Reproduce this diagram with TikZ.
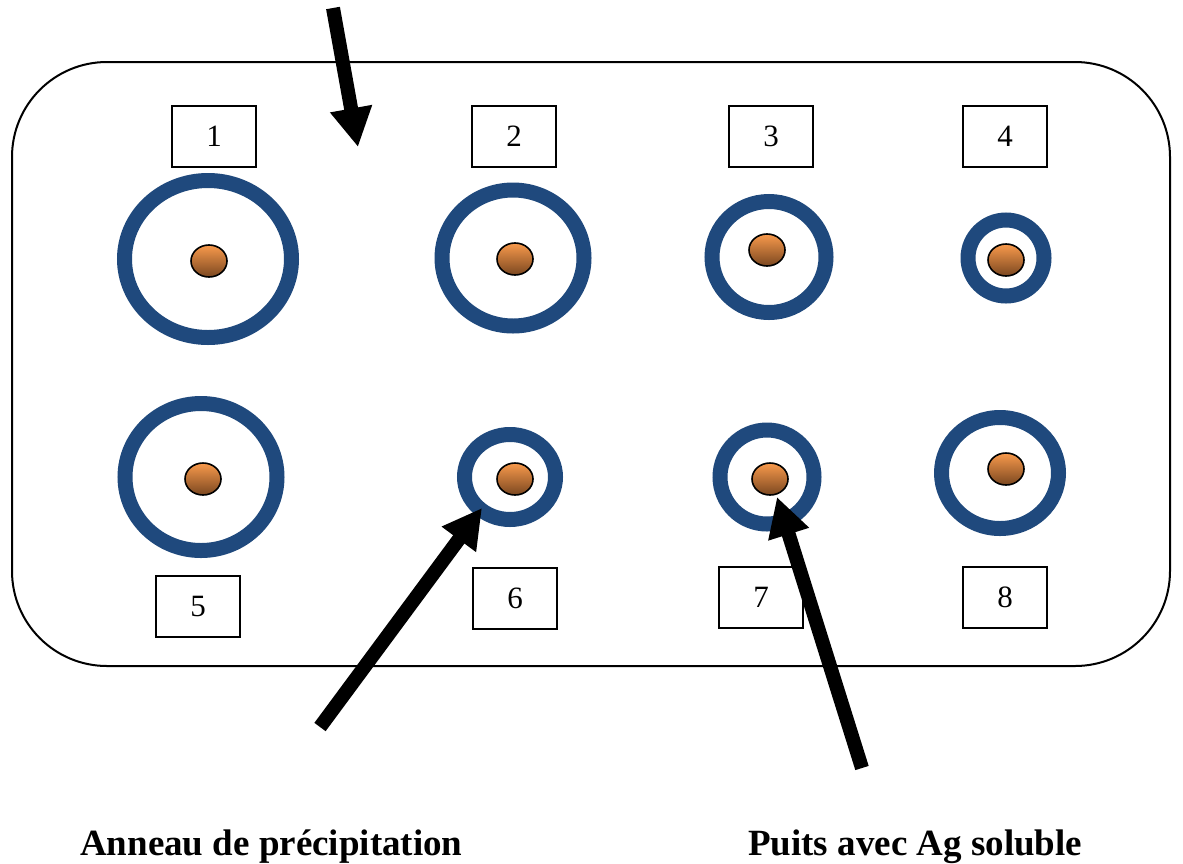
\documentclass[tikz,border=0pt]{standalone}
\usepackage{fontspec}
\setmainfont{Liberation Serif}
\usetikzlibrary{shapes.geometric,arrows.meta}
\definecolor{ringblue}{HTML}{1F497D}
\definecolor{dottop}{HTML}{F99A4C}
\definecolor{dotbot}{HTML}{7A4720}
\tikzset{
  ring/.style={ellipse, draw=ringblue, line width=15pt, inner sep=0pt},
  dot/.style={ellipse, draw=black, line width=1.6pt, inner sep=0pt,
    minimum width=36pt, minimum height=32pt, top color=dottop, bottom color=dotbot},
  numbox/.style={draw=black, line width=2pt, inner sep=0pt, minimum width=84pt,
    minimum height=61pt, font=\fontsize{31}{31}\selectfont},
  bigarrow/.style={line width=14pt, -{Triangle[length=39pt,width=40pt]}},
  caption/.style={inner sep=0pt, anchor=base west, font=\fontsize{37}{37}\selectfont\bfseries}
}
\begin{document}
\begin{tikzpicture}[x=1pt,y=-1pt]
\useasboundingbox (0,0) rectangle (1183,863);
\fill[white] (0,0) rectangle (1183,863);
\draw[line width=2pt, rounded corners=95pt] (12,62) rectangle (1170,666);
% number boxes
\node[numbox] (b1) at (214,136.5) {1};
\node[numbox] (b2) at (514,136.5) {2};
\node[numbox] (b3) at (771,136.5) {3};
\node[numbox] (b4) at (1005,136.5) {4};
\node[numbox] (b5) at (198,606) {5};
\node[numbox] (b6) at (515,598.5) {6};
\node[numbox] (b7) at (761,597.5) {7};
\node[numbox] (b8) at (1005,597.5) {8};
% rings
\node[ring, minimum width=167pt, minimum height=157pt] (r1) at (208,259) {};
\node[ring, minimum width=142pt, minimum height=136pt] (r2) at (513,258) {};
\node[ring, minimum width=114pt, minimum height=111pt] (r3) at (769,257) {};
\node[ring, minimum width=76pt, minimum height=76pt] (r4) at (1006,258) {};
\node[ring, minimum width=152pt, minimum height=147pt] (r5) at (201,477) {};
\node[ring, minimum width=91pt, minimum height=85pt] (r6) at (510,477) {};
\node[ring, minimum width=94pt, minimum height=94pt] (r7) at (767,477) {};
\node[ring, minimum width=117pt, minimum height=111pt] (r8) at (1000,473) {};
% wells
\node[dot] (d1) at (209,261) {};
\node[dot] (d2) at (515,259) {};
\node[dot] (d3) at (767,250) {};
\node[dot] (d4) at (1006,260) {};
\node[dot] (d5) at (203,479) {};
\node[dot] (d6) at (515,479) {};
\node[dot] (d7) at (770,479) {};
\node[dot] (d8) at (1006,469) {};
% arrows
\coordinate (t1) at (333,8);
\coordinate (h1) at (358,147);
\coordinate (t2) at (320,727);
\coordinate (h2) at (482,508);
\coordinate (t3) at (862,768);
\coordinate (h3) at (777,497);
\draw[bigarrow] (t1) -- (h1);
\draw[bigarrow] (t2) -- (h2);
\draw[bigarrow] (t3) -- (h3);
% captions
\node[caption] (c1) at (80,855) {Anneau de précipitation};
\node[caption] (c2) at (748,855) {Puits avec Ag soluble};
\end{tikzpicture}
\end{document}
